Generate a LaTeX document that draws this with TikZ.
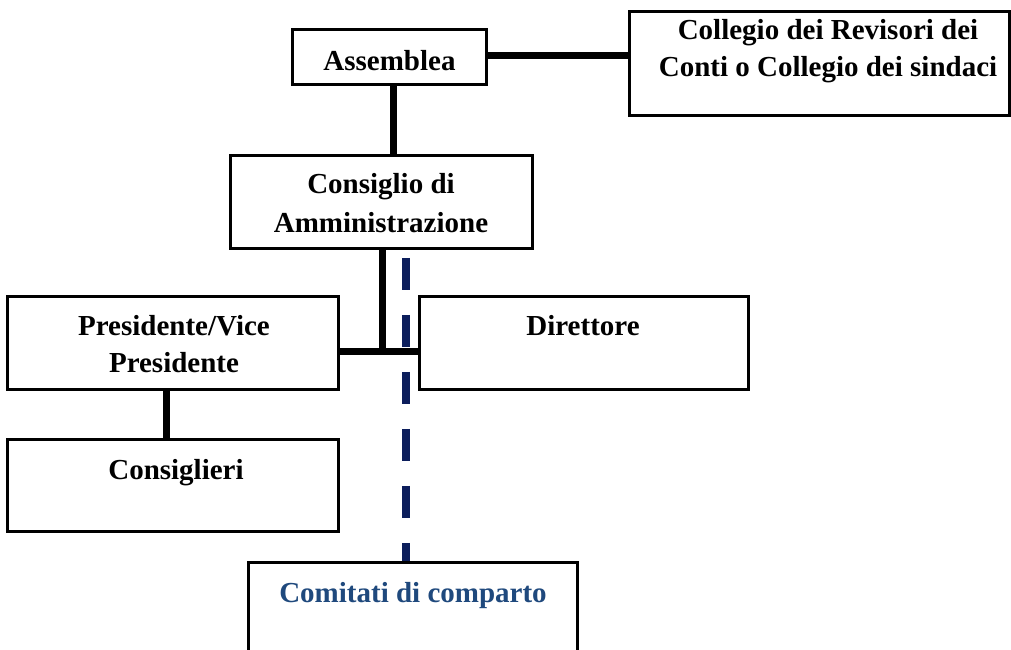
\documentclass[tikz,border=0pt]{standalone}
\usepackage{fontspec}
\setmainfont{Liberation Serif}
\definecolor{navy}{RGB}{12,30,92}
\definecolor{textblue}{RGB}{31,73,125}
\begin{document}
\begin{tikzpicture}[x=1pt,y=-1pt,
  box/.style={draw, line width=1.6pt, inner sep=0pt, fill=white},
  lbl/.style={anchor=base, inner sep=0pt, font=\fontsize{29}{37}\selectfont\bfseries, align=center},
  conn/.style={line width=7pt, black},
  dashconn/.style={line width=8pt, navy, dash pattern=on 32pt off 25pt, dash phase=48pt}]
\useasboundingbox (0,0) rectangle (1011,649);
\clip (0,0) rectangle (1011,649);
% boxes
\node[box, minimum width=193pt, minimum height=54pt] (ass) at (389.5,57) {};
\node[box, minimum width=379pt, minimum height=103pt] (col) at (819.5,63.5) {};
\node[box, minimum width=301pt, minimum height=92pt] (cons) at (381.5,202) {};
\node[box, minimum width=330pt, minimum height=92pt] (pres) at (173,343) {};
\node[box, minimum width=330pt, minimum height=91pt] (consl) at (173,485.5) {};
\node[box, minimum width=328pt, minimum height=92pt] (dir) at (584,343) {};
\node[box, minimum width=328pt, minimum height=137pt] (com) at (413,631.5) {};
% connectors
\coordinate (j) at (382,351);
\draw[conn] (ass.east |- 0,55) -- (col.west |- 0,55);
\draw[conn] (ass.south -| 393,0) -- (cons.north -| 393,0);
\draw[conn] (cons.south -| j) -- (j);
\draw[conn] (pres.east |- j) -- (dir.west |- j);
\draw[conn] (pres.south -| 166,0) -- (consl.north -| 166,0);
\draw[dashconn] (cons.south -| 406,0) -- (com.north -| 406,0);
% redraw box borders on top of connectors
\foreach \n in {ass,col,cons,pres,consl,dir,com}
  \draw[line width=1.6pt] (\n.north west) rectangle (\n.south east);
% labels
\node[lbl] (tass) at (389.5,70) {Assemblea};
\node[lbl] (tcol1) at (828,39) {Collegio dei Revisori dei};
\node[lbl] (tcol2) at (828,76) {Conti o Collegio dei sindaci};
\node[lbl] (tcons1) at (381,193) {Consiglio di};
\node[lbl] (tcons2) at (381,232) {Amministrazione};
\node[lbl] (tpres1) at (174,335) {Presidente/Vice};
\node[lbl] (tpres2) at (174,372) {Presidente};
\node[lbl] (tconsl) at (176,479) {Consiglieri};
\node[lbl] (tdir) at (583,335) {Direttore};
\node[lbl, text=textblue] (tcom) at (413,602) {Comitati di comparto};
\end{tikzpicture}
\end{document}
